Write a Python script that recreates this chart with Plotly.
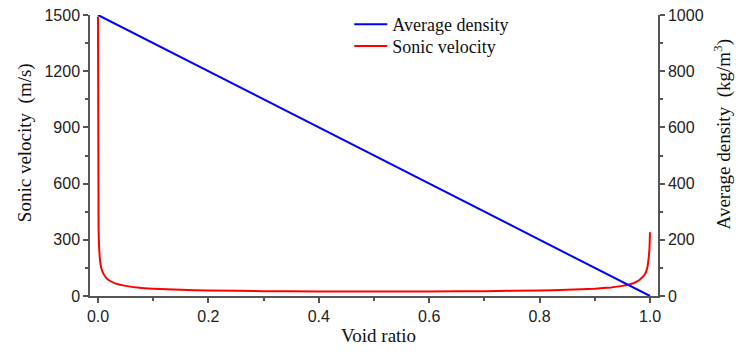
import plotly.graph_objects as go

# Data
void_ratio_density = [0.0, 1.0]
average_density = [1000, 0]

void_ratio_sonic = [0.0, 0.001, 0.002, 0.004, 0.006, 0.01, 0.015, 0.02, 0.03, 0.05,
                    0.075, 0.1, 0.15, 0.2, 0.3, 0.4, 0.5, 0.6, 0.7, 0.8,
                    0.85, 0.9, 0.93, 0.95, 0.97, 0.98, 0.99, 0.995, 0.999, 1.0]
sonic_velocity = [1490, 362, 259, 182, 148, 118, 97, 84, 69, 54,
                  44, 39, 33, 29.5, 25.7, 24, 23.5, 24, 25.7, 29.5,
                  33, 39, 46, 54, 68, 84, 112, 150, 250, 340]

left_ticks = [0, 300, 600, 900, 1200, 1500]
right_ticks = [0, 200, 400, 600, 800, 1000]
x_ticks = [0, 0.2, 0.4, 0.6, 0.8, 1.0]
x_ticktext = ["0.0", "0.2", "0.4", "0.6", "0.8", "1.0"]

AXC = "#555555"
SERIF = "Liberation Serif, Times New Roman"
tickfont = dict(family="Liberation Sans, Arial", size=16, color="#222222")
titlefont = dict(family=SERIF, size=19, color="#111111")
legfont = dict(family=SERIF, size=18, color="#111111")

fig = go.Figure()
fig.add_trace(go.Scatter(x=void_ratio_density, y=average_density, mode="lines",
                         name="Average density", yaxis="y2", legend="legend",
                         line=dict(color="#0000ff", width=2)))
fig.add_trace(go.Scatter(x=void_ratio_sonic, y=sonic_velocity, mode="lines",
                         name="Sonic velocity", yaxis="y", legend="legend2",
                         line=dict(color="#ff0000", width=2, shape="spline", smoothing=0.3)))

fig.update_layout(
    width=738, height=352,
    margin=dict(l=90, r=80, t=15, b=56, autoexpand=False),
    plot_bgcolor="white", paper_bgcolor="white",
    showlegend=True,
    legend=dict(x=0.4565, y=0.966, xanchor="left", yanchor="middle",
                bgcolor="rgba(0,0,0,0)", font=legfont, itemwidth=33),
    legend2=dict(x=0.4565, y=0.889, xanchor="left", yanchor="middle",
                 bgcolor="rgba(0,0,0,0)", font=legfont, itemwidth=33),
    xaxis=dict(range=[-0.0145, 1.0145], tickvals=x_ticks, ticktext=x_ticktext,
               showline=True, linecolor=AXC, linewidth=1.5,
               ticks="outside", ticklen=5, tickwidth=1.5, tickcolor=AXC,
               minor=dict(tickvals=[0.1, 0.3, 0.5, 0.7, 0.9], ticks="outside",
                          ticklen=3, tickwidth=1.5, tickcolor=AXC),
               showgrid=False, zeroline=False, tickfont=tickfont, automargin=False),
    yaxis=dict(range=[0, 1500], tickvals=left_ticks,
               showline=True, linecolor=AXC, linewidth=1.5,
               ticks="outside", ticklen=5, tickwidth=1.5, tickcolor=AXC,
               minor=dict(tickvals=[150, 450, 750, 1050, 1350], ticks="outside",
                          ticklen=3, tickwidth=1.5, tickcolor=AXC),
               showgrid=False, zeroline=False, tickfont=tickfont, automargin=False),
    yaxis2=dict(range=[0, 1000], tickvals=right_ticks, overlaying="y", side="right",
                showline=True, linecolor=AXC, linewidth=1.5,
                ticks="outside", ticklen=5, tickwidth=1.5, tickcolor=AXC,
                minor=dict(tickvals=[100, 300, 500, 700, 900], ticks="outside",
                           ticklen=3, tickwidth=1.5, tickcolor=AXC),
                showgrid=False, zeroline=False, tickfont=tickfont, automargin=False),
    annotations=[
        dict(text="Void ratio", xref="paper", yref="paper", x=0.5, y=0,
             xshift=4, yshift=-39, showarrow=False, font=titlefont,
             xanchor="center", yanchor="middle"),
        dict(text="Sonic velocity  (m/s)", xref="paper", yref="paper", x=0, y=0.544,
             xshift=-65, showarrow=False, font=titlefont, textangle=-90,
             xanchor="center", yanchor="middle"),
        dict(text="Average density  (kg/m<sup>3</sup>)", xref="paper", yref="paper",
             x=1, y=0.575, xshift=64, showarrow=False, font=titlefont, textangle=-90,
             xanchor="center", yanchor="middle"),
    ],
)

fig.write_html("out.html", config={"displayModeBar": False},
               post_script="document.body.style.margin='0';document.body.style.padding='0';")
